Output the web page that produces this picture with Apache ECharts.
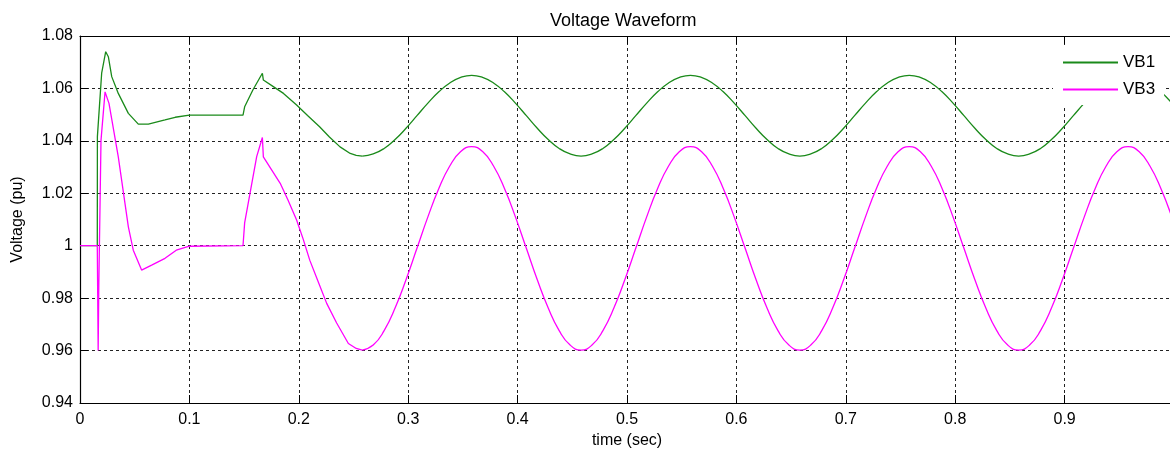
<!DOCTYPE html>
<html>
<head>
<meta charset="utf-8">
<script src="https://cdn.jsdelivr.net/npm/echarts@6/dist/echarts.min.js"></script>
<style>
  html, body { margin: 0; padding: 0; background: #fff; }
  #container { width: 1170px; height: 452px; }
</style>
</head>
<body>
<div id="container"></div>
<script>
// start-up transient as [time, pu] pairs
var vb1Transient = [
  [0, 1.0], [0.0158, 1.0], [0.0159, 1.0416], [0.0198, 1.0658], [0.0235, 1.0740],
  [0.0259, 1.0721], [0.029, 1.0645], [0.035, 1.0581], [0.0442, 1.0505],
  [0.0533, 1.0464], [0.0625, 1.0464], [0.0777, 1.0480], [0.087, 1.0490],
  [0.1, 1.0498], [0.149, 1.0498], [0.1505, 1.0530], [0.158, 1.0594],
  [0.1667, 1.0658], [0.1676, 1.0632], [0.1767, 1.0607], [0.186, 1.0581],
  [0.198, 1.0537], [0.208, 1.0497], [0.219, 1.0454], [0.228, 1.0415],
  [0.2377, 1.0377], [0.247, 1.0352], [0.2525, 1.0345]
];
var vb3Transient = [
  [0, 1.0], [0.0158, 1.0], [0.0166, 0.9600], [0.0172, 0.9850], [0.0192, 1.0403],
  [0.0229, 1.0587], [0.0243, 1.0581], [0.0265, 1.0543], [0.035, 1.0339],
  [0.0442, 1.0072], [0.0487, 0.9983], [0.0563, 0.9907], [0.0655, 0.9926],
  [0.0777, 0.9952], [0.088, 0.9983], [0.1, 0.9998], [0.149, 1.0],
  [0.1505, 1.0087], [0.1615, 1.0340], [0.1667, 1.0413], [0.1676, 1.0339],
  [0.175, 1.0290], [0.183, 1.0238], [0.190, 1.0175], [0.198, 1.0098],
  [0.204, 1.0025], [0.210, 0.9945], [0.218, 0.9860], [0.2255, 0.9780],
  [0.2346, 0.9705], [0.2453, 0.9627], [0.2525, 0.9608]
];

// oscillating part, sampled every 10 ms from the first trough
var timeSteady = [
  0.258, 0.268, 0.278, 0.288, 0.298, 0.308, 0.318, 0.328, 0.338, 0.348,
  0.358, 0.368, 0.378, 0.388, 0.398, 0.408, 0.418, 0.428, 0.438, 0.448,
  0.458, 0.468, 0.478, 0.488, 0.498, 0.508, 0.518, 0.528, 0.538, 0.548,
  0.558, 0.568, 0.578, 0.588, 0.598, 0.608, 0.618, 0.628, 0.638, 0.648,
  0.658, 0.668, 0.678, 0.688, 0.698, 0.708, 0.718, 0.728, 0.738, 0.748,
  0.758, 0.768, 0.778, 0.788, 0.798, 0.808, 0.818, 0.828, 0.838, 0.848,
  0.858, 0.868, 0.878, 0.888, 0.898, 0.908, 0.918, 0.928, 0.938, 0.948,
  0.958, 0.968, 0.978, 0.988, 0.998
];
var vb1Steady = [
  1.0342, 1.0350, 1.0371, 1.0405, 1.0448, 1.0496, 1.0544, 1.0587, 1.0621, 1.0642,
  1.0650, 1.0642, 1.0621, 1.0587, 1.0544, 1.0496, 1.0448, 1.0405, 1.0371, 1.0350,
  1.0342, 1.0350, 1.0371, 1.0405, 1.0448, 1.0496, 1.0544, 1.0587, 1.0621, 1.0642,
  1.0650, 1.0642, 1.0621, 1.0587, 1.0544, 1.0496, 1.0448, 1.0405, 1.0371, 1.0350,
  1.0342, 1.0350, 1.0371, 1.0405, 1.0448, 1.0496, 1.0544, 1.0587, 1.0621, 1.0642,
  1.0650, 1.0642, 1.0621, 1.0587, 1.0544, 1.0496, 1.0448, 1.0405, 1.0371, 1.0350,
  1.0342, 1.0350, 1.0371, 1.0405, 1.0448, 1.0496, 1.0544, 1.0587, 1.0621, 1.0642,
  1.0650, 1.0642, 1.0621, 1.0587, 1.0544
];
var vb3Steady = [
  0.9602, 0.9621, 0.9676, 0.9762, 0.9870, 0.9990, 1.0110, 1.0218, 1.0304, 1.0359,
  1.0378, 1.0359, 1.0304, 1.0218, 1.0110, 0.9990, 0.9870, 0.9762, 0.9676, 0.9621,
  0.9602, 0.9621, 0.9676, 0.9762, 0.9870, 0.9990, 1.0110, 1.0218, 1.0304, 1.0359,
  1.0378, 1.0359, 1.0304, 1.0218, 1.0110, 0.9990, 0.9870, 0.9762, 0.9676, 0.9621,
  0.9602, 0.9621, 0.9676, 0.9762, 0.9870, 0.9990, 1.0110, 1.0218, 1.0304, 1.0359,
  1.0378, 1.0359, 1.0304, 1.0218, 1.0110, 0.9990, 0.9870, 0.9762, 0.9676, 0.9621,
  0.9602, 0.9621, 0.9676, 0.9762, 0.9870, 0.9990, 1.0110, 1.0218, 1.0304, 1.0359,
  1.0378, 1.0359, 1.0304, 1.0218, 1.0110
];

var seriesNames = ['VB1', 'VB3'];
var seriesColors = ['#1a8a1a', '#ff00ff'];

// transient part ends on the first steady sample so the two pieces join up
function transientPart(transient, steady) {
  return transient.concat([[timeSteady[0], steady[0]]]);
}
function steadyPart(steady) {
  var out = [];
  for (var i = 0; i < timeSteady.length; i++) {
    out.push([timeSteady[i], steady[i]]);
  }
  return out;
}

var dom = document.getElementById('container');
var myChart = echarts.init(dom, null, { renderer: 'canvas' });
var font = '"Liberation Sans", Arial, sans-serif';
var gridDash = { color: '#222', width: 1, type: [3, 3] };
var option;

function lineSeries(idx, data, smooth) {
  return {
    name: seriesNames[idx],
    type: 'line',
    data: data,
    smooth: smooth,
    showSymbol: false,
    symbol: 'none',
    lineStyle: { color: seriesColors[idx], width: 1.3 },
    itemStyle: { color: seriesColors[idx] }
  };
}

option = {
  animation: false,
  textStyle: { fontFamily: font },
  title: {
    text: 'Voltage Waveform',
    left: 545,
    top: 7,
    textStyle: { fontFamily: font, fontSize: 18, fontWeight: 'normal', color: '#000' }
  },
  legend: {
    data: seriesNames,
    orient: 'vertical',
    left: 1053,
    top: 47,
    padding: [7, 9, 7, 10],
    itemGap: 10,
    itemWidth: 55,
    itemHeight: 2,
    icon: 'rect',
    backgroundColor: '#fff',
    textStyle: { fontFamily: font, fontSize: 17, color: '#000' }
  },
  grid: {
    left: 80,
    top: 36,
    width: 1094,
    bottom: 49,
    outerBoundsMode: 'none',
    containLabel: false,
    show: false
  },
  xAxis: [
    {
      type: 'value',
      min: 0,
      max: 1,
      interval: 0.1,
      name: 'time (sec)',
      nameLocation: 'middle',
      nameGap: 29,
      nameTextStyle: { fontFamily: font, fontSize: 16, color: '#000' },
      axisLine: { lineStyle: { color: '#000', width: 1.2 } },
      axisTick: { inside: true, length: 8, lineStyle: { color: '#000' } },
      axisLabel: { fontFamily: font, fontSize: 16, color: '#000', margin: 9, showMaxLabel: false },
      splitLine: { show: true, lineStyle: gridDash }
    },
    {
      type: 'value',
      position: 'top',
      min: 0,
      max: 1,
      interval: 0.1,
      axisLine: { show: true, lineStyle: { color: '#000', width: 1.2 } },
      axisTick: { show: true, inside: true, length: 8, lineStyle: { color: '#000' } },
      axisLabel: { show: false },
      splitLine: { show: false }
    }
  ],
  yAxis: {
    type: 'value',
    min: 0.94,
    max: 1.08,
    interval: 0.02,
    name: 'Voltage (pu)',
    nameLocation: 'middle',
    nameGap: 54,
    nameTextStyle: { fontFamily: font, fontSize: 16, color: '#000' },
    axisLine: { show: true, lineStyle: { color: '#000', width: 1.2 } },
    axisTick: { show: true, inside: true, length: 8, lineStyle: { color: '#000' } },
    axisLabel: {
      fontFamily: font,
      fontSize: 16,
      color: '#000',
      margin: 7,
      formatter: function (v) {
        return String(Math.round(v * 100) / 100);
      }
    },
    splitLine: { show: true, lineStyle: gridDash }
  },
  series: [
    lineSeries(0, transientPart(vb1Transient, vb1Steady), false),
    lineSeries(1, transientPart(vb3Transient, vb3Steady), false),
    lineSeries(0, steadyPart(vb1Steady), 0.5),
    lineSeries(1, steadyPart(vb3Steady), 0.5)
  ]
};

if (option && typeof option === 'object') {
  myChart.setOption(option);
}

window.addEventListener('resize', myChart.resize);
</script>
</body>
</html>
